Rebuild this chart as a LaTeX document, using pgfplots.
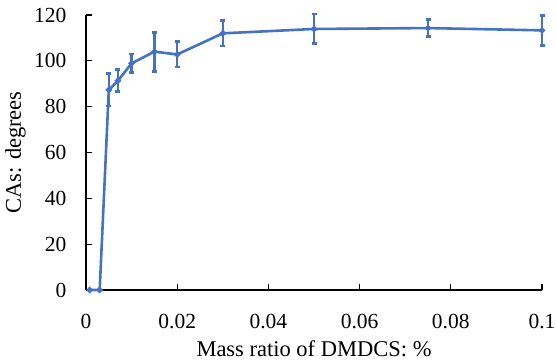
\documentclass[border=0pt]{standalone}
\usepackage{fontspec}
\setmainfont{Liberation Serif}
\usepackage{pgfplots}
\usepackage{pgfplotstable}
\pgfplotsset{compat=1.18}
\definecolor{exblue}{HTML}{4472C4}
\pgfplotstableread{
x y e
0.0008 0 0
0.003 0 0
0.005 87.3 7
0.007 91.3 4.8
0.01 98.9 4.1
0.015 104 8.5
0.02 102.8 5.5
0.03 112 5.5
0.05 113.9 6.5
0.075 114.3 3.8
0.1 113.3 6.6
}\datatable
\begin{document}
\fontsize{21}{25}\selectfont
\begin{tikzpicture}
\begin{axis}[
 name=ax,
 scale only axis, width=456pt, height=275pt,
 xmin=0, xmax=0.1, ymin=0, ymax=120,
 axis lines*=left,
 xtick={0,0.02,0.04,0.06,0.08,0.1},
 xticklabels={0,0.02,0.04,0.06,0.08,0.1},
 ytick={0,20,40,60,80,100,120},
 tick align=inside, major tick length=6pt,
 tick style={black, line width=1.2pt},
 axis line style={black, line width=1.2pt, -},
 /pgf/number format/assume math mode=true,
 ticklabel style={font=\fontsize{21.5}{25}\selectfont, inner sep=0pt},
 xticklabel style={anchor=north, yshift=-24pt},
 yticklabel style={anchor=east, xshift=-19.5pt},
 label style={font=\fontsize{22.5}{27}\selectfont, inner sep=0pt},
 xlabel={Mass ratio of DMDCS: \%},
 ylabel={CAs: degrees},
 xlabel style={at={([yshift=-66pt]axis description cs:0.5,0)}, anchor=base},
 ylabel style={at={([xshift=-65pt]axis description cs:0,0.5)}, anchor=base, rotate=0},
 clip=false,
]
\addplot[exblue, line width=2.6pt, mark=*, mark size=1.7pt,
  error bars/.cd, y dir=both, y explicit,
  error bar style={line width=2.4pt, exblue},
  error mark options={rotate=90, mark size=2.5pt, line width=2.8pt, exblue}]
  table[x=x, y=y, y error=e] {\datatable};
\end{axis}
\pgfresetboundingbox
\path ([xshift=-86pt,yshift=-72pt]ax.south west) rectangle ([xshift=14pt,yshift=15pt]ax.north east);
\end{tikzpicture}
\end{document}
